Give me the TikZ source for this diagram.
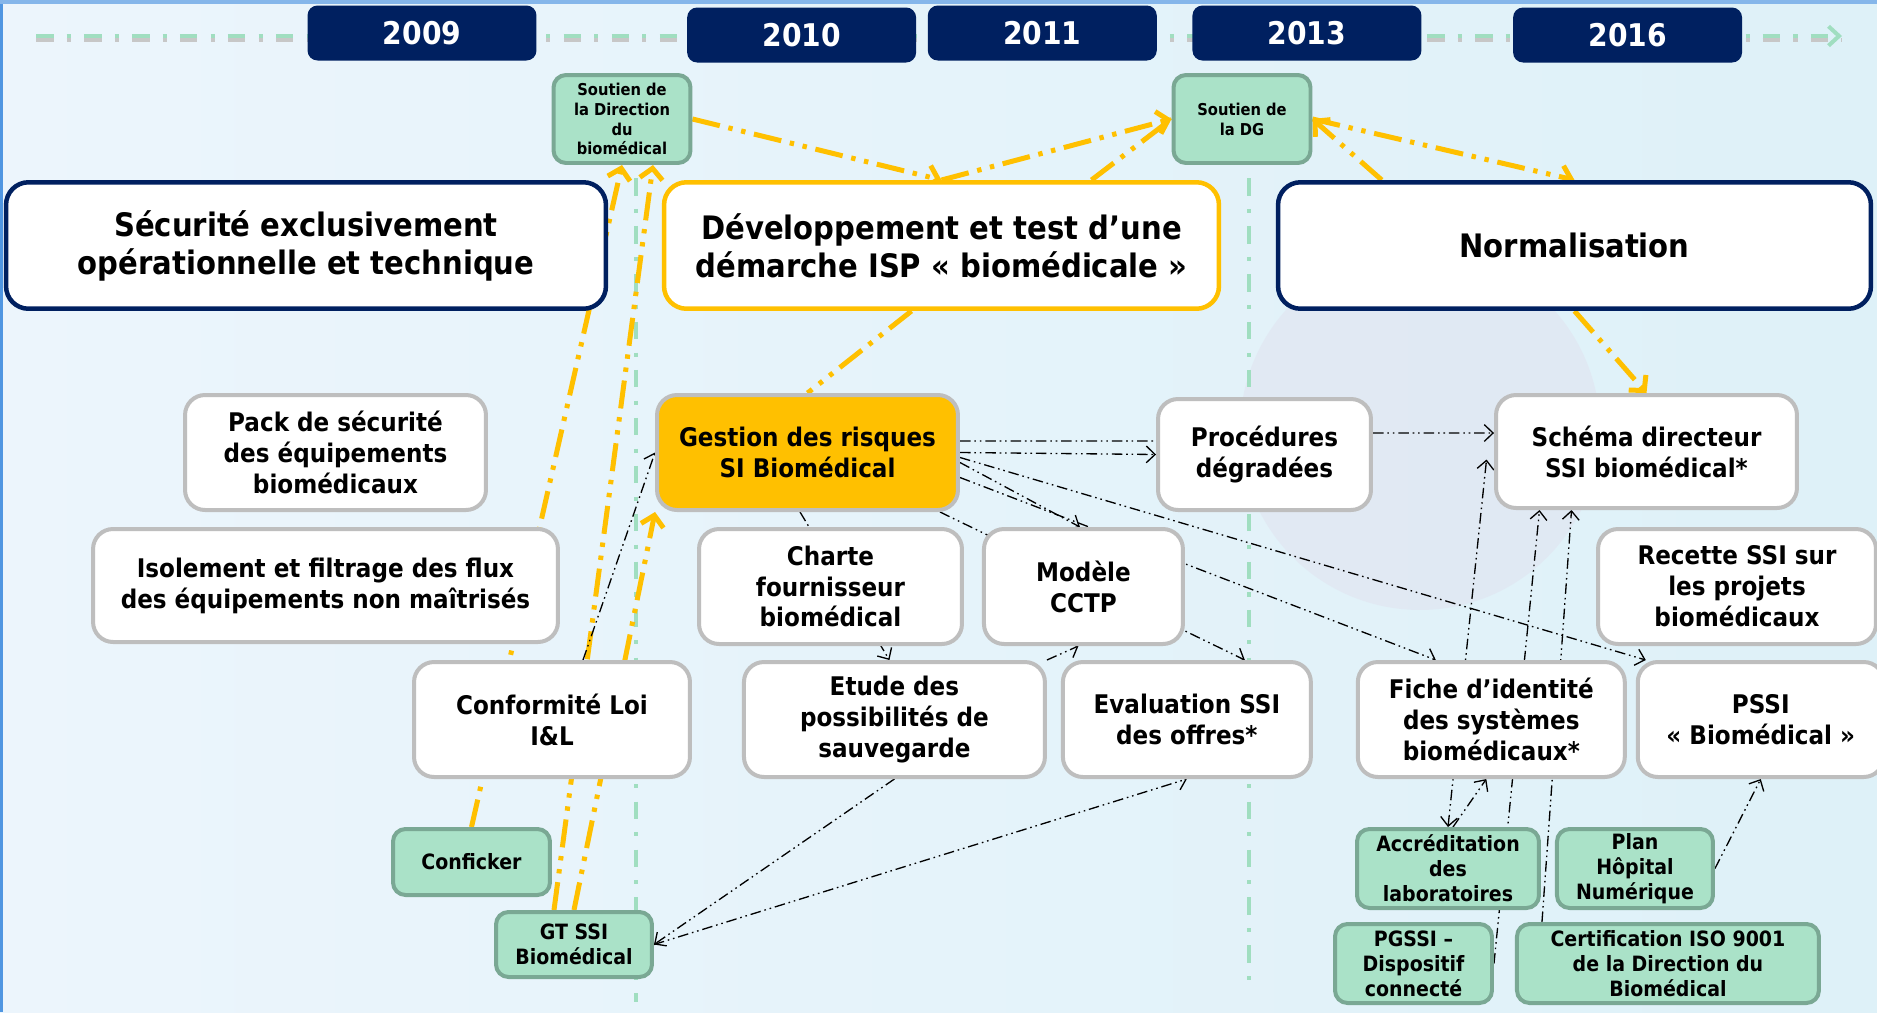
\documentclass[tikz,border=0pt]{standalone}
\usepackage{fontspec}
\setmainfont{DejaVu Sans}[FakeStretch=0.9]
\usepackage{tikz}
\usetikzlibrary{arrows.meta,positioning,calc}

\definecolor{navy}{RGB}{0,32,96}
\definecolor{gold}{RGB}{255,192,0}
\definecolor{mint}{RGB}{170,226,200}
\definecolor{mintedge}{RGB}{122,168,148}
\definecolor{boxgrey}{RGB}{190,190,190}
\definecolor{tlgreen}{RGB}{160,222,192}
\definecolor{bgleft}{RGB}{236,245,252}
\definecolor{bgright}{RGB}{222,241,248}
\definecolor{globe}{RGB}{224,221,236}
\definecolor{rim}{RGB}{80,150,225}

\newcommand{\fTitle}{\bfseries\fontsize{18.4}{21.6}\selectfont}
\newcommand{\fMid}{\bfseries\fontsize{14.6}{17.6}\selectfont}
\newcommand{\fSmall}{\bfseries\fontsize{12}{14.2}\selectfont}
\newcommand{\fTiny}{\bfseries\fontsize{9.3}{11.3}\selectfont}
\newcommand{\fYear}{\bfseries\fontsize{17.8}{21}\selectfont}

\pgfdeclarelayer{bg}
\pgfdeclarelayer{links}
\pgfsetlayers{bg,links,main}

\tikzset{
    node distance = 0.3cm and 0.3cm,
    year/.style = {fill=navy, text=white, rounded corners=0.2cm, minimum width=4.58cm, minimum height=1.1cm, font=\fYear},
    phasebox/.style = {draw=navy, line width=0.09cm, fill=white, rounded corners=0.45cm, minimum height=2.53cm, align=center, font=\fTitle},
    box/.style = {draw=boxgrey, line width=0.08cm, fill=white, rounded corners=0.4cm, minimum height=2.3cm, align=center, font=\fMid},
    gbox/.style = {draw=mintedge, line width=0.08cm, fill=mint, rounded corners=0.25cm, minimum height=1.58cm, align=center, font=\fSmall, inner sep=1pt},
    yl/.style = {gold, line width=0.1cm, dash pattern=on 16pt off 5pt on 2.5pt off 5pt on 2.5pt off 5pt, -{Straight Barb[length=6pt,width=13pt]}},
    bl/.style = {black, line width=0.75pt, dash pattern=on 6pt off 2.2pt on 0.9pt off 2.2pt on 0.9pt off 2.2pt, -{Straight Barb[length=5pt,width=9.5pt]}},
    timeline/.style = {tlgreen, line width=0.08cm, dash pattern=on 10pt off 7.5pt on 2.3pt off 7.5pt}
}

\begin{document}
\begin{tikzpicture}[x=0.02cm, y=-0.02cm]
    \useasboundingbox (0,0) rectangle (1877,1012);

    % Years
    \node[year] (y2009) at (422,33) {2009};
    \node[year] (y2010) [right=3cm of y2009, yshift=-0.04cm] {2010};
    \node[year] (y2011) [right=0.22cm of y2010, yshift=0.04cm] {2011};
    \node[year] (y2013) [right=0.7cm of y2011] {2013};
    \node[year] (y2016) [right=1.82cm of y2013, yshift=-0.04cm] {2016};

    % Support
    \node[gbox, font=\fTiny, minimum width=2.74cm, minimum height=1.76cm] (sdb) at (622,119) {Soutien de\\la Direction\\du\\biomédical};
    \node[gbox, font=\fTiny, minimum width=2.74cm, minimum height=1.76cm] (sdg) at (1242,119) {Soutien de\\la DG};

    % Phases
    \node[phasebox, minimum width=12.0cm] (secu) at (306,245.5) {Sécurité exclusivement\\opérationnelle et technique};
    \node[phasebox, draw=gold, minimum width=11.1cm] (dev) at (941.5,245.5) {Développement et test d’une\\démarche ISP «~biomédicale~»};
    \node[phasebox, minimum width=11.86cm] (norm) at (1574.5,245.5) {Normalisation};

    % Row 1
    \node[box, minimum width=6.02cm] (pack) at (335.5,452.5) {Pack de sécurité\\des équipements\\biomédicaux};
    \node[box, fill=gold, minimum width=6.02cm] (gest) at (807.5,452.5) {Gestion des risques\\SI Biomédical};
    \node[box, minimum width=4.26cm, minimum height=2.22cm] (proc) at (1264.5,454.5) {Procédures\\dégradées};
    \node[box, minimum width=6.02cm, minimum height=2.26cm] (schema) at (1646.5,451.5) {Schéma directeur\\SSI biomédical*};

    % Row 2
    \node[box, minimum width=9.3cm, minimum height=2.26cm] (isol) at (325.5,585.5) {Isolement et filtrage des flux\\des équipements non maîtrisés};
    \node[box, minimum width=5.26cm] (charte) at (830.5,586.5) {Charte\\fournisseur\\biomédical};
    \node[box, minimum width=3.98cm] (cctp) [right=0.36cm of charte] {Modèle\\CCTP};
    \node[box, minimum width=5.56cm] (recette) at (1737,586.5) {Recette SSI sur\\les projets\\biomédicaux};

    % Row 3
    \node[box, minimum width=5.52cm] (conf) at (552,719.5) {Conformité Loi\\I\&L};
    \node[box, minimum width=6.02cm] (etude) [right=1cm of conf] {Etude des\\possibilités de\\sauvegarde};
    \node[box, minimum width=4.96cm] (eval) [right=0.28cm of etude] {Evaluation SSI\\des offres*};
    \node[box, minimum width=5.34cm] (fiche) [right=0.86cm of eval] {Fiche d’identité\\des systèmes\\biomédicaux*};
    \node[box, minimum width=4.92cm] (pssi) [right=0.18cm of fiche] {PSSI\\«~Biomédical~»};

    % Drivers
    \node[gbox, minimum width=3.14cm, minimum height=1.32cm] (conficker) at (471.5,862) {Conficker};
    \node[gbox, minimum width=3.12cm, minimum height=1.3cm] (gt) at (574,944.5) {GT SSI\\Biomédical};
    \node[gbox, minimum width=3.64cm] (accr) at (1448,868.5) {Accréditation\\des\\laboratoires};
    \node[gbox, minimum width=3.12cm] (plan) [right=0.28cm of accr] {Plan\\Hôpital\\Numérique};
    \node[gbox, minimum width=3.14cm] (pgssi) at (1413.5,963.5) {PGSSI –\\Dispositif\\connecté};
    \node[gbox, minimum width=6.04cm] (certif) [right=0.42cm of pgssi] {Certification ISO 9001\\de la Direction du\\Biomédical};

    % Background and time axis
    \begin{pgfonlayer}{bg}
        \shade[left color=bgleft, right color=bgright] (0,0) rectangle (1877,1012);
        \fill[globe, opacity=0.4] (1420,430) circle[radius=3.6cm];
        \fill[rim] (0,0) rectangle (3,1012);
        \fill[rim!70] (0,0) rectangle (1877,4);
        \coordinate (tls) at (36,36);
        \coordinate (tle) at (1842,36);
        \coordinate (v1t) at (636,178);
        \coordinate (v1b) at (636,1002);
        \coordinate (v2t) at (1249,178);
        \coordinate (v2b) at (1249,984);
        \draw[timeline, black!22] ([yshift=-0.07cm]tls) -- ([yshift=-0.07cm]tle);
        \draw[timeline, -{Straight Barb[length=6pt,width=11pt]}] (tls) -- (tle);
        \draw[timeline] (v1t) -- (v1b);
        \draw[timeline] (v2t) -- (v2b);
    \end{pgfonlayer}

    \begin{pgfonlayer}{links}
        % Yellow links
        \path[yl] (sdb.east) edge (dev.north);
        \path[yl] (dev.north) edge (sdg.west);
        \path[yl, -] ([xshift=3cm]dev.north) edge (sdg.west);
        \path[yl] (sdg.east) edge (norm.north);
        \path[yl] ([xshift=2.12cm]norm.north west) edge (sdg.east);
        \path[yl] (norm.south) edge (schema.north);
        \path[yl, -] ([xshift=-0.6cm]dev.south) edge (gest.north);
        \path[yl] (conficker.north) edge (sdb.south);
        \path[yl] ([xshift=-0.4cm]gt.north) edge ([xshift=0.62cm]sdb.south);
        \path[yl] (gt.north) edge (gest.south west);

        % Black links
        \path[bl, -] ([yshift=0.23cm]gest.east) edge ([yshift=0.27cm]proc.west);
        \path[bl] (gest.east) edge (proc.west);
        \path[bl] ([yshift=0.43cm]proc.east) edge ([yshift=0.37cm]schema.west);
        \path[bl] ([yshift=-0.2cm]gest.east) edge ([xshift=-0.07cm]cctp.north);
        \path[bl] ([yshift=-0.5cm]gest.east) edge ([xshift=1.6cm]fiche.north west);
        \path[bl] ([yshift=-0.1cm]gest.east) edge ([xshift=0.2cm]pssi.north west);
        \path[bl] ([xshift=-0.4cm]gest.south east) edge ([xshift=-1.36cm]eval.north east);
        \path[bl] ([xshift=-0.15cm]gest.south) edge ([xshift=-0.1cm]etude.north);
        \path[bl] (etude.north east) edge ([xshift=-0.1cm]cctp.south);
        \path[bl] ([xshift=0.62cm]conf.north) edge (gest.west);
        \path[bl] (etude.south) edge (gt.east);
        \path[bl] (gt.east) edge (eval.south);
        \path[bl, {Straight Barb[length=5pt,width=9.5pt]}-{Straight Barb[length=5pt,width=9.5pt]}] (accr.north) edge ([xshift=-0.15cm, yshift=-0.16cm]schema.west);
        \path[bl] ([xshift=0.1cm]accr.north) edge ([xshift=-0.1cm]fiche.south);
        \path[bl] (pgssi.east) edge ([xshift=-2.14cm]schema.south);
        \path[bl] ([xshift=0.54cm]certif.north west) edge ([xshift=-1.5cm]schema.south);
        \path[bl] (plan.east) edge (pssi.south);
    \end{pgfonlayer}
\end{tikzpicture}
\end{document}
